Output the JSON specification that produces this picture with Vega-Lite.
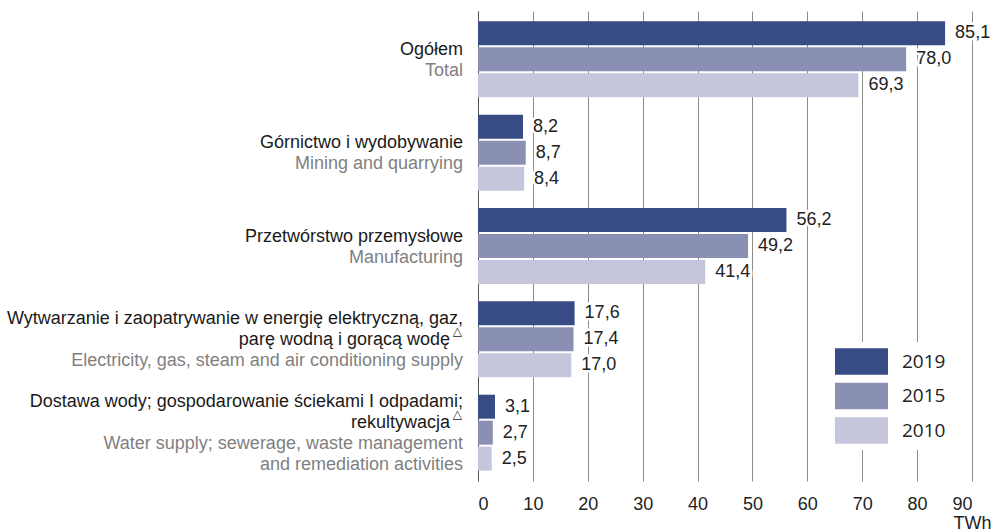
{
  "$schema": "https://vega.github.io/schema/vega-lite/v6.json",
  "width": 494,
  "height": 470,
  "autosize": {"type": "none"},
  "padding": {"left": 478, "top": 11, "right": 29, "bottom": 50},
  "config": {
    "view": {"stroke": null},
    "font": "Liberation Sans",
    "locale": {"number": {"decimal": ",", "thousands": " ", "grouping": [3], "currency": ["", " zł"]}}
  },
  "datasets": {
    "bars": [
      {"cat": "Ogółem", "year": "2019", "value": 85.1},
      {"cat": "Ogółem", "year": "2015", "value": 78.0},
      {"cat": "Ogółem", "year": "2010", "value": 69.3},
      {"cat": "Górnictwo", "year": "2019", "value": 8.2},
      {"cat": "Górnictwo", "year": "2015", "value": 8.7},
      {"cat": "Górnictwo", "year": "2010", "value": 8.4},
      {"cat": "Przetwórstwo", "year": "2019", "value": 56.2},
      {"cat": "Przetwórstwo", "year": "2015", "value": 49.2},
      {"cat": "Przetwórstwo", "year": "2010", "value": 41.4},
      {"cat": "Wytwarzanie", "year": "2019", "value": 17.6},
      {"cat": "Wytwarzanie", "year": "2015", "value": 17.4},
      {"cat": "Wytwarzanie", "year": "2010", "value": 17.0},
      {"cat": "Dostawa", "year": "2019", "value": 3.1},
      {"cat": "Dostawa", "year": "2015", "value": 2.7},
      {"cat": "Dostawa", "year": "2010", "value": 2.5}
    ],
    "labels": [
      {"cat": "Ogółem", "pl": ["\u200b", "\u200b", "Ogółem"], "en": ["\u200b", "\u200b", "\u200b", "\u200b", "Total"]},
      {"cat": "Górnictwo", "pl": ["\u200b", "\u200b", "Górnictwo i wydobywanie"], "en": ["\u200b", "\u200b", "\u200b", "\u200b", "Mining and quarrying"]},
      {"cat": "Przetwórstwo", "pl": ["\u200b", "\u200b", "Przetwórstwo przemysłowe"], "en": ["\u200b", "\u200b", "\u200b", "\u200b", "Manufacturing"]},
      {"cat": "Wytwarzanie", "pl": ["\u200b", "Wytwarzanie i zaopatrywanie w energię elektryczną, gaz,", "\u200b", "parę wodną i gorącą wodę\u2800"], "en": ["\u200b", "\u200b", "\u200b", "\u200b", "\u200b", "Electricity, gas, steam and air conditioning supply"]},
      {"cat": "Dostawa", "pl": ["Dostawa wody; gospodarowanie ściekami I odpadami;", "\u200b", "rekultywacja\u2800"], "en": ["\u200b", "\u200b", "\u200b", "\u200b", "Water supply; sewerage, waste management", "\u200b", "and remediation activities"]}
    ],
    "sup": [
      {"cat": "Wytwarzanie", "t": ["\u200b", "\u200b", "\u200b", "△"]},
      {"cat": "Dostawa", "t": ["\u200b", "\u200b", "△"]}
    ]
  },
  "layer": [
    {
      "data": {"name": "bars"},
      "mark": {"type": "bar"},
      "encoding": {
        "y": {
          "field": "cat", "type": "nominal",
          "scale": {"domain": ["Ogółem", "Górnictwo", "Przetwórstwo", "Wytwarzanie", "Dostawa"], "paddingInner": 0.164, "paddingOuter": 0.1},
          "axis": {"labels": false, "ticks": false, "domain": true, "domainColor": "#555555", "title": null, "grid": false}
        },
        "yOffset": {
          "field": "year", "type": "nominal",
          "scale": {"domain": ["2019", "2015", "2010"], "paddingInner": 0.077, "paddingOuter": 0.04}
        },
        "x": {
          "field": "value", "type": "quantitative",
          "scale": {"domain": [0, 90], "nice": false},
          "axis": {
            "values": [0, 10, 20, 30, 40, 50, 60, 70, 80, 90],
            "grid": true, "gridColor": "#8c8c8c", "gridWidth": 1,
            "domain": false, "ticks": false,
            "labelPadding": 14, "labelFontSize": 18, "labelColor": "#222222", "labelFont": "Liberation Sans",
            "title": "TWh", "titleAnchor": "end", "titleAlign": "center", "titleFontWeight": "normal",
            "titleFontSize": 18, "titleColor": "#222222", "titlePadding": 1, "titleFont": "Liberation Sans"
          }
        },
        "color": {
          "field": "year", "type": "nominal",
          "scale": {"domain": ["2019", "2015", "2010"], "range": ["#374c85", "#8a90b4", "#c5c6dc"]},
          "legend": {
            "title": null, "orient": "none", "legendX": 364, "legendY": 331,
            "symbolType": "M-2,-1H2V1H-2Z", "symbolSize": 702, "symbolStrokeWidth": 0, "symbolOpacity": 1,
            "labelFontSize": 19, "labelFont": "Open Sans", "labelColor": "#222222", "labelOffset": 27,
            "rowPadding": 7.5, "fillColor": "white", "padding": 6
          }
        }
      }
    },
    {
      "data": {"name": "bars"},
      "mark": {"type": "text", "align": "left", "baseline": "middle", "dx": 10, "fontSize": 18, "stroke": "white", "strokeWidth": 5, "fill": "white"},
      "encoding": {
        "y": {"field": "cat", "type": "nominal"},
        "yOffset": {"field": "year", "type": "nominal"},
        "x": {"field": "value", "type": "quantitative"},
        "text": {"field": "value", "type": "quantitative", "format": ".1f"}
      }
    },
    {
      "data": {"name": "bars"},
      "mark": {"type": "text", "align": "left", "baseline": "middle", "dx": 10, "fontSize": 18, "color": "#222222"},
      "encoding": {
        "y": {"field": "cat", "type": "nominal"},
        "yOffset": {"field": "year", "type": "nominal"},
        "x": {"field": "value", "type": "quantitative"},
        "text": {"field": "value", "type": "quantitative", "format": ".1f"}
      }
    },
    {
      "data": {"name": "labels"},
      "mark": {"type": "text", "align": "right", "baseline": "middle", "dx": -15, "dy": -30.5, "fontSize": 18, "lineHeight": 10.5, "color": "#1a1a1a"},
      "encoding": {
        "y": {"field": "cat", "type": "nominal"},
        "x": {"datum": 0, "type": "quantitative"},
        "text": {"field": "pl"}
      }
    },
    {
      "data": {"name": "labels"},
      "mark": {"type": "text", "align": "right", "baseline": "middle", "dx": -15, "dy": -30.5, "fontSize": 18, "lineHeight": 10.5, "color": "#7f7f7f"},
      "encoding": {
        "y": {"field": "cat", "type": "nominal"},
        "x": {"datum": 0, "type": "quantitative"},
        "text": {"field": "en"}
      }
    },
    {
      "data": {"name": "sup"},
      "mark": {"type": "text", "align": "right", "baseline": "middle", "dx": -16, "dy": -39.5, "font": "DejaVu Sans", "fontSize": 12, "lineHeight": 10.5, "color": "#1a1a1a"},
      "encoding": {
        "y": {"field": "cat", "type": "nominal"},
        "x": {"datum": 0, "type": "quantitative"},
        "text": {"field": "t"}
      }
    }
  ]
}
